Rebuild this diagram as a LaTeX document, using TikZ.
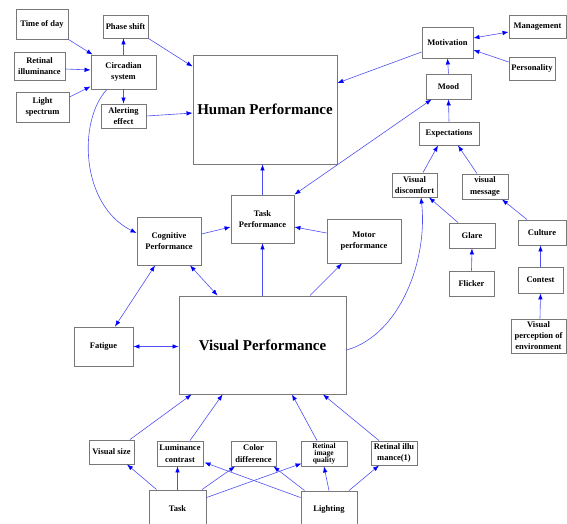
\documentclass[tikz,border=0pt]{standalone}
\usepackage{fontspec}
\setmainfont{Liberation Serif}
\usetikzlibrary{arrows.meta}
\definecolor{boxgray}{RGB}{120,120,120}
\definecolor{linkblue}{RGB}{80,80,245}
\definecolor{tipblue}{RGB}{0,0,255}
\begin{document}
\begin{tikzpicture}[x=1pt,y=-1pt,
  box/.style={draw=boxgray, line width=0.9pt, fill=white, inner sep=0pt, align=center,
    font=\fontsize{8.5}{11.5}\selectfont\bfseries},
  bigbox/.style={box, font=\fontsize{15}{18}\selectfont\bfseries},
  link/.style={draw=linkblue, line width=0.6pt, -{Latex[length=6pt,width=4.5pt,color=tipblue]}},
  dlink/.style={draw=linkblue, line width=0.6pt, {Latex[length=6pt,width=4.5pt,color=tipblue]}-{Latex[length=6pt,width=4.5pt,color=tipblue]}}]
\useasboundingbox[fill=white] (0,0) rectangle (567,524);

% nodes
\node[box, minimum width=52pt, minimum height=30pt] (tod) at (42,24) {Time of day};
\node[box, minimum width=51pt, minimum height=28pt] (reti) at (39.5,66) {Retinal\\illuminance};
\node[box, minimum width=53pt, minimum height=30pt] (light) at (42.5,107) {Light\\spectrum};
\node[box, minimum width=45pt, minimum height=23pt] (phase) at (125.5,26.5) {Phase shift};
\node[box, minimum width=65pt, minimum height=34pt] (circ) at (123.5,72) {Circadian\\system};
\node[box, minimum width=45pt, minimum height=24pt] (alert) at (123.5,116) {Alerting\\effect};
\node[bigbox, minimum width=144pt, minimum height=109pt] (human) at (265,109.5) {Human Performance};
\node[box, minimum width=51pt, minimum height=31pt] (motiv) at (447.5,42.5) {Motivation};
\node[box, minimum width=57pt, minimum height=23pt] (mgmt) at (537.5,26.5) {Management};
\node[box, minimum width=46pt, minimum height=23pt] (pers) at (532,68.5) {Personality};
\node[box, minimum width=45pt, minimum height=25pt] (mood) at (448.5,86.5) {Mood};
\node[box, minimum width=60pt, minimum height=23pt] (expect) at (449,133.5) {Expectations};
\node[box, minimum width=45pt, minimum height=24pt] (vdis) at (414.5,185) {Visual\\discomfort};
\node[box, minimum width=46pt, minimum height=25pt] (vmsg) at (485,186.5) {visual\\message};
\node[box, minimum width=46pt, minimum height=25pt] (glare) at (472,235.5) {Glare};
\node[box, minimum width=45pt, minimum height=25pt] (flicker) at (471.5,283.5) {Flicker};
\node[box, minimum width=48pt, minimum height=25pt] (culture) at (542,232.5) {Culture};
\node[box, minimum width=45pt, minimum height=26pt] (contest) at (540.5,280) {Contest};
\node[box, minimum width=55pt, minimum height=34pt, font=\fontsize{8.5}{11}\selectfont\bfseries] (vpe) at (538.5,336) {Visual\\perception of\\environment};
\node[box, minimum width=64pt, minimum height=48pt] (cog) at (169,241) {Cognitive\\Performance};
\node[box, minimum width=63pt, minimum height=48pt] (taskp) at (262.5,219) {Task\\Performance};
\node[box, minimum width=74pt, minimum height=44pt] (motor) at (364,241) {Motor\\performance};
\node[box, minimum width=59pt, minimum height=39pt] (fatigue) at (103.5,346.5) {Fatigue};
\node[bigbox, minimum width=167pt, minimum height=98pt] (vp) at (262.5,345) {Visual Performance};
\node[box, minimum width=45pt, minimum height=24pt] (vsize) at (111.5,452) {Visual size};
\node[box, minimum width=46pt, minimum height=25pt] (lumc) at (180,453.5) {Luminance\\contrast};
\node[box, minimum width=45pt, minimum height=25pt] (colord) at (253.5,453.5) {Color\\difference};
\node[box, minimum width=46pt, minimum height=25pt, font=\fontsize{7.5}{7}\selectfont\bfseries] (riq) at (324,453.5) {Retinal\\image\\quality};
\node[box, minimum width=46pt, minimum height=24pt] (rillu) at (394,453) {Retinal illu\\mance(1)};
\node[box, minimum width=57pt, minimum height=40pt] (task) at (177.5,510) {\raisebox{3pt}{Task}};
\node[box, minimum width=56pt, minimum height=39pt] (lighting) at (329,510.5) {\raisebox{3pt}{Lighting}};

% connectors: circadian cluster
\draw[link] (tod.south east) -- ([xshift=2pt]circ.north west);
\draw[link] ([yshift=-3pt]reti.east) -- ([yshift=2pt]circ.west);
\draw[link] ([yshift=10pt]light.east) -- ([yshift=3pt]circ.south west);
\draw[link] (circ.north) -- (circ.north |- phase.south);
\draw[link] (circ.south) -- (alert.north);
\draw[link] (phase.south east) -- ([yshift=-12pt]human.north west);
\draw[link] (alert.east) -- ([yshift=-3.5pt]human.west);
\draw[link] ([xshift=-16.5pt]circ.south) .. controls (78,120) and (80,205) .. ([yshift=8pt]cog.west);

% right cluster
\draw[link] ([yshift=-9.5pt]motiv.west) -- ([yshift=26.5pt]human.east);
\draw[dlink] ([yshift=4.5pt]motiv.east) -- ([yshift=-5.5pt]mgmt.west);
\draw[link] ([yshift=6.5pt]pers.west) -- ([yshift=-7.5pt]motiv.east);
\draw[link] (mood.north) -- (motiv.south);
\draw[link] (expect.north) -- (mood.south);
\draw[dlink] (taskp.north east) -- ([xshift=6pt]mood.south west);
\draw[link] ([xshift=8.5pt]vdis.north) -- ([xshift=-11pt]expect.south);
\draw[link] ([xshift=-8pt]vmsg.north) -- ([xshift=9pt]expect.south);
\draw[link] ([xshift=-14pt]glare.north) -- ([xshift=14.5pt]vdis.south);
\draw[link] (flicker.north) -- (glare.south);
\draw[link] (contest.north) -- (contest.north |- culture.south);
\draw[link] ([xshift=1.5pt]vpe.north) -- (contest.south);
\draw[link] ([xshift=-15pt]culture.north) -- ([xshift=17pt]vmsg.south);
\draw[link] ([yshift=-5pt]vp.east) .. controls (400,335) and (428,260) .. ([xshift=6.5pt]vdis.south);

% middle
\draw[link] (taskp.north) -- (taskp.north |- human.south);
\draw[link] ([yshift=7pt]cog.east) -- ([yshift=-8pt]taskp.west);
\draw[link] ([yshift=8pt]motor.west) -- ([yshift=-8pt]taskp.east);
\draw[link] (vp.north) -- (taskp.south);
\draw[link] ([xshift=47.5pt]vp.north) -- ([xshift=-22pt]motor.south);
\draw[dlink] ([xshift=21pt]cog.south) -- ([xshift=39pt]vp.north west);
\draw[dlink] ([xshift=-14pt]cog.south) -- ([xshift=11.5pt]fatigue.north);
\draw[dlink] (fatigue.east) -- (fatigue.east -| vp.west);

% bottom
\draw[link] ([xshift=18.5pt]vsize.north) -- ([xshift=13pt]vp.south west);
\draw[link] ([xshift=10pt]lumc.north) -- ([xshift=44pt]vp.south west);
\draw[link] ([xshift=-7pt]riq.north) -- ([xshift=29.5pt]vp.south);
\draw[link] ([xshift=-15pt]rillu.north) -- ([xshift=60.5pt]vp.south);
\draw[link] ([xshift=8pt]task.north west) -- ([xshift=15.5pt]vsize.south);
\draw[link] (task.north) -- (task.north |- lumc.south);
\draw[link] ([xshift=24.5pt]task.north) -- ([xshift=-18.5pt]colord.south);
\draw[link] ([yshift=-8pt]task.north east) -- ([xshift=1pt,yshift=3pt]riq.south west);
\draw[link] ([yshift=-7pt]lighting.north west) -- ([xshift=1pt,yshift=4pt]lumc.south east);
\draw[link] ([xshift=4pt]lighting.north west) -- ([xshift=-3pt]colord.south east);
\draw[link] (lighting.north) -- (riq.south);
\draw[link] ([xshift=20pt]lighting.north) -- ([xshift=-15pt]rillu.south);
\end{tikzpicture}
\end{document}
